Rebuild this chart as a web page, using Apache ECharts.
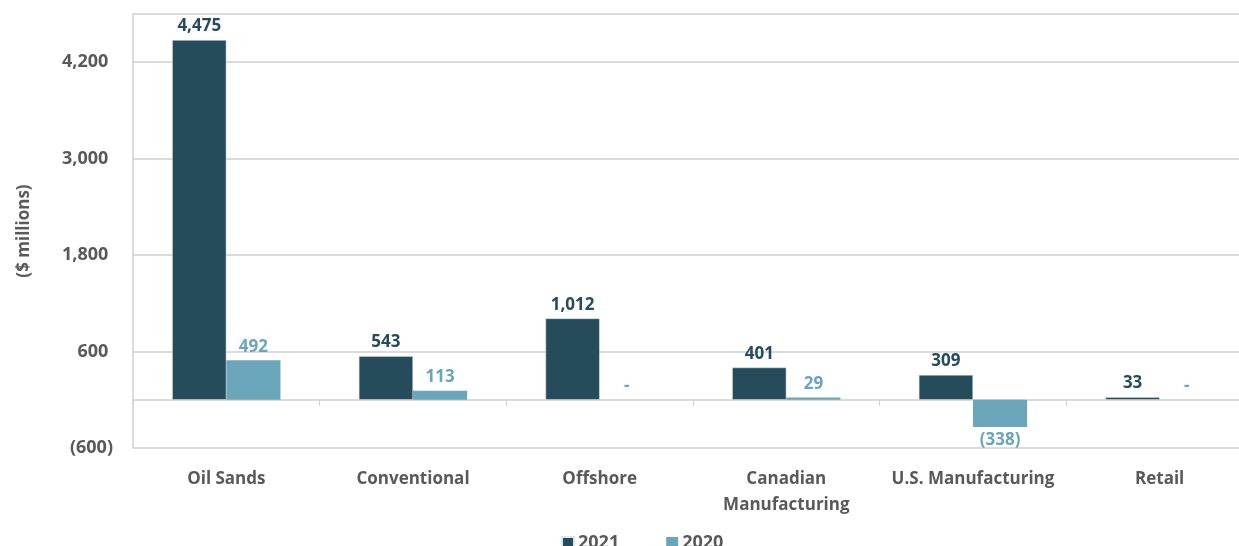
<!DOCTYPE html>
<html>
<head>
<meta charset="utf-8">
<script src="https://cdn.jsdelivr.net/npm/echarts@6/dist/echarts.min.js"></script>
<style>
html,body{margin:0;padding:0;background:#fff;overflow:hidden;}
#c{width:1260px;height:546px;}
</style>
</head>
<body>
<div id="c"></div>
<script>
const categories = ['Oil Sands', 'Conventional', 'Offshore', 'Canadian\nManufacturing', 'U.S. Manufacturing', 'Retail'];
const values2021 = [4475, 543, 1012, 401, 309, 33];
const values2020 = [492, 113, 0, 29, -338, 0];
const seriesNames = ['2021', '2020'];
const yMin = -600, yMax = 4800, yInterval = 1200;

const FONT = '"Open Sans", Lato, sans-serif';
const GRAY = '#595959';
const DARK = '#264B5A';
const LIGHT = '#6AA5BA';

function fmtNum(v) {
  if (v === 0) return '-';
  const s = Math.abs(v).toLocaleString('en-US');
  return v < 0 ? '(' + s + ')' : s;
}
function buildData(arr) {
  return arr.map(v => ({
    value: v,
    label: { position: v < 0 ? 'bottom' : 'top' }
  }));
}

const chart = echarts.init(document.getElementById('c'), null, { renderer: 'canvas' });
chart.setOption({
  animation: false,
  textStyle: { fontFamily: FONT },
  grid: { left: 133, width: 1120, top: 14, height: 434, containLabel: false },
  legend: {
    data: seriesNames,
    left: 556, top: 529,
    itemWidth: 12, itemHeight: 12, itemGap: 47,
    icon: 'rect',
    textStyle: { fontFamily: FONT, fontSize: 18, fontWeight: 'bold', color: GRAY, padding: [0, 0, 0, -1] }
  },
  xAxis: [
    {
      type: 'category', data: categories,
      axisLine: { onZero: true, lineStyle: { color: '#D0D0D0', width: 1.5 } },
      axisTick: { show: true, length: 6, lineStyle: { color: '#D0D0D0', width: 1 } },
      axisLabel: { show: false },
      splitLine: { show: false }
    },
    {
      type: 'category', data: categories, position: 'bottom',
      axisLine: { show: false, onZero: false },
      axisTick: { show: false },
      axisLabel: { show: true, margin: 18, fontFamily: FONT, fontSize: 17, fontWeight: 'bold', color: GRAY, lineHeight: 26, interval: 0 },
      splitLine: { show: false }
    }
  ],
  yAxis: {
    type: 'value', min: yMin, max: yMax, interval: yInterval,
    name: '($ millions)', nameLocation: 'middle', nameRotate: 90, nameGap: 100,
    nameTextStyle: { fontFamily: FONT, fontSize: 17, fontWeight: 'bold', color: GRAY },
    axisLine: { show: true, lineStyle: { color: '#D0D0D0', width: 1.5 } },
    axisTick: { show: false },
    splitLine: { show: true, lineStyle: { color: '#D0D0D0', width: 1.5 } },
    axisLabel: {
      margin: 20, fontFamily: FONT, fontSize: 18, fontWeight: 'bold', color: GRAY,
      formatter: v => v === yMax ? '' : (v < 0 ? fmtNum(v) : fmtNum(v) + ' ')
    }
  },
  series: [
    {
      name: seriesNames[0], type: 'bar', xAxisIndex: 0,
      data: buildData(values2021),
      barGap: '0%', barCategoryGap: '42%',
      itemStyle: { color: DARK, borderColor: '#dde6ea', borderWidth: 0.5 },
      label: { show: true, distance: 5, fontFamily: FONT, fontSize: 17, fontWeight: 'bold', color: DARK, formatter: p => fmtNum(p.value) }
    },
    {
      name: seriesNames[1], type: 'bar', xAxisIndex: 0,
      data: buildData(values2020),
      barGap: '0%', barCategoryGap: '42%',
      itemStyle: { color: LIGHT },
      label: { show: true, distance: 5, fontFamily: FONT, fontSize: 17, fontWeight: 'bold', color: LIGHT, formatter: p => fmtNum(p.value) }
    }
  ]
});
</script>
</body>
</html>
